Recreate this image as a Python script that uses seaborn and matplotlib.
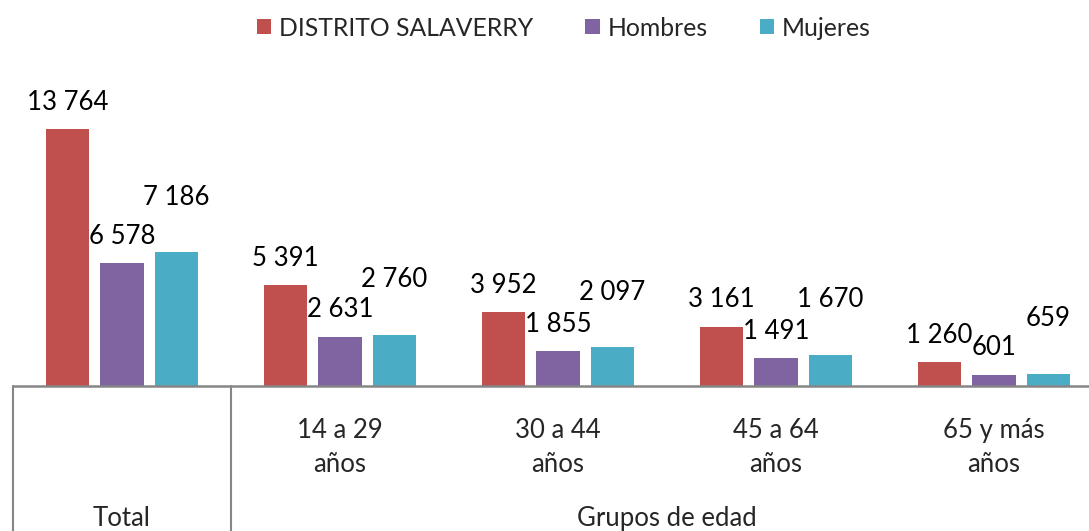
import matplotlib
matplotlib.use("Agg")
import matplotlib.pyplot as plt
import matplotlib.transforms as mtransforms
from matplotlib.patches import Patch
import seaborn as sns
import pandas as pd

groups = ["Total", "14 a 29\naños", "30 a 44\naños", "45 a 64\naños", "65 y más\naños"]
series = ["DISTRITO SALAVERRY", "Hombres", "Mujeres"]
distrito = [13764, 5391, 3952, 3161, 1260]
hombres = [6578, 2631, 1855, 1491, 601]
mujeres = [7186, 2760, 2097, 1670, 659]
colors = ["#C0504D", "#8064A2", "#4BACC6"]
label_offsets = [19.5, 19.5, 39.5]  # points above bar top, per series

rows = []
for s, vals in zip(series, [distrito, hombres, mujeres]):
    for g, v in zip(groups, vals):
        rows.append({"grupo": g, "serie": s, "valor": v})
df = pd.DataFrame(rows)

sns.set_theme(style="white")
plt.rcParams["font.family"] = ["Lato", "DejaVu Sans"]

W, H = 1089, 531
fig = plt.figure(figsize=(W / 100, H / 100), dpi=100)
base_px, top_px = 386, 80
left_px, right_px = 13, 1103
ax = fig.add_axes([left_px / W, (H - base_px) / H, (right_px - left_px) / W, (base_px - top_px) / H])

sns.barplot(data=df, x="grupo", y="valor", hue="serie", order=groups, hue_order=series,
            palette=colors, width=0.75, gap=0.2, saturation=1, ax=ax, legend=False,
            edgecolor="none")

ax.set_xlim(-0.5, len(groups) - 0.5)
ax.set_ylim(0, 16400)
for sp in ["top", "left", "right"]:
    ax.spines[sp].set_visible(False)
ax.spines["bottom"].set_color("#868686")
ax.spines["bottom"].set_linewidth(1.8)
ax.set_xticks([])
ax.set_yticks([])
ax.set_xlabel("")
ax.set_ylabel("")

# data labels
for cont, off in zip(ax.containers, label_offsets):
    for p in cont.patches:
        v = p.get_height()
        txt = f"{int(round(v)):,}".replace(",", " ")
        ax.annotate(txt, (p.get_x() + p.get_width() / 2, v), xytext=(0, off),
                    textcoords="offset points", ha="center", va="center",
                    fontsize=18.5, color="#000000")

# multi-level category axis
trans = mtransforms.blended_transform_factory(ax.transData, ax.transAxes)
for i, g in enumerate(groups):
    if i == 0:
        continue
    a, b = g.split("\n")
    ax.text(i, -0.147, a, transform=trans, ha="center", va="center", fontsize=18.5)
    ax.text(i, -0.256, b, transform=trans, ha="center", va="center", fontsize=18.5)
ax.text(0, -0.434, "Total", transform=trans, ha="center", va="center", fontsize=18.5)
ax.text((1 + len(groups) - 1) / 2, -0.434, "Grupos de edad", transform=trans,
        ha="center", va="center", fontsize=18.5)
for xb in [-0.5, 0.5, len(groups) - 0.5]:
    ax.plot([xb, xb], [0, -0.6], transform=trans, color="#868686", lw=1.5, clip_on=False)

# legend
handles = [Patch(facecolor=c, edgecolor="none", label=s) for c, s in zip(colors, series)]
fig.legend(handles=handles, loc="center", bbox_to_anchor=(564 / W, 1 - 28 / H), ncol=3,
           frameon=False, fontsize=17.8, handlelength=0.57, handleheight=0.57,
           handletextpad=0.33, columnspacing=2.1, borderpad=0)

fig.savefig("out.png", dpi=100)
